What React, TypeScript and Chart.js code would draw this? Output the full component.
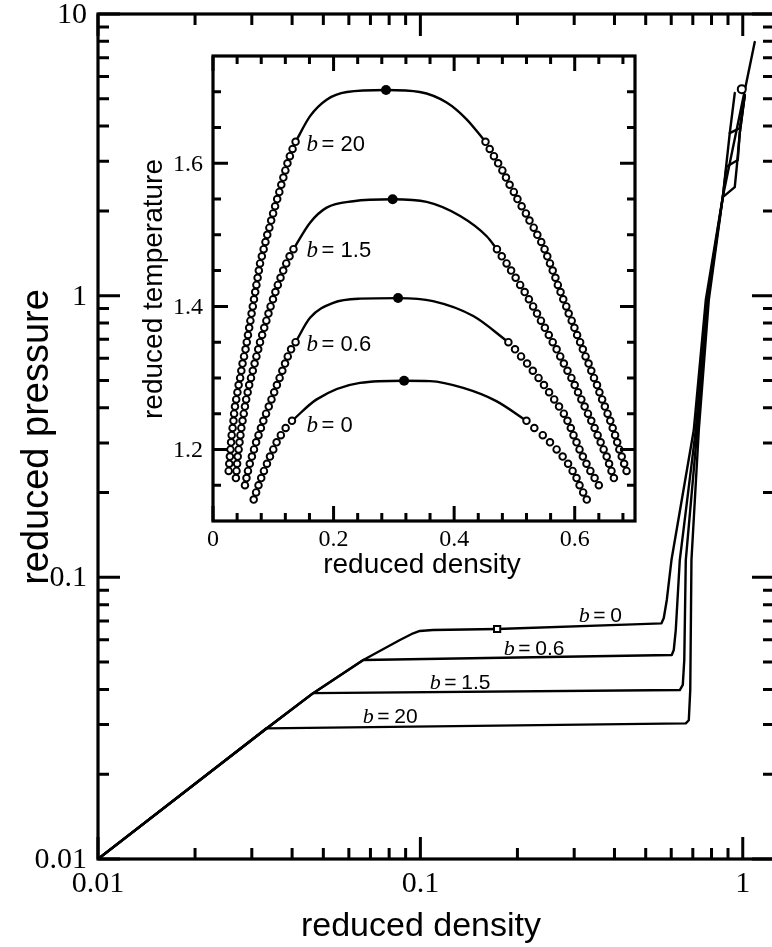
import React, { useEffect, useRef } from "react";
import { Chart, registerables } from "chart.js";
Chart.register(...registerables);

const W = 800;
const H = 947;

// ---------------- main chart (log-log) ----------------
const mainXRange = [0.01, 1.25];
const mainYRange = [0.01, 10];
const mainXMajor = [0.01, 0.1, 1];
const mainXMajorLabels = ["0.01", "0.1", "1"];
const mainYMajor = [0.01, 0.1, 1, 10];
const mainYMajorLabels = ["0.01", "0.1", "1", "10"];

// reduced density / reduced pressure along each isotherm
const b0Density = [0.01, 0.0318, 0.0465, 0.0665, 0.0864, 0.095, 0.0996, 0.1094, 0.173, 0.457, 0.5596, 0.5689, 0.5813, 0.601, 0.7048, 0.7679, 0.867, 1.0894];
const b0Pressure = [0.01, 0.0279, 0.0388, 0.0509, 0.0599, 0.0633, 0.0645, 0.065, 0.06555, 0.0681, 0.06866, 0.0717, 0.0831, 0.1152, 0.3334, 0.9647, 2.239, 7.95];

const b06Density = [0.01, 0.0318, 0.0465, 0.0665, 0.6023, 0.6109, 0.6197, 0.6378, 0.7149, 0.7733, 0.867, 0.9114, 0.9788, 1.0144];
const b06Pressure = [0.01, 0.0279, 0.0388, 0.0509, 0.053, 0.0552, 0.065, 0.1152, 0.3334, 0.9647, 2.239, 3.776, 3.935, 5.15];

const b15Density = [0.01, 0.0318, 0.0465, 0.6378, 0.6516, 0.6586, 0.6657, 0.7226, 0.779, 0.867, 0.89, 0.965, 0.9788, 1.0144];
const b15Pressure = [0.01, 0.0279, 0.0388, 0.0398, 0.0415, 0.0509, 0.1152, 0.3334, 0.9647, 2.239, 2.868, 3.03, 3.776, 5.15];

const b20Density = [0.01, 0.0318, 0.0332, 0.6657, 0.6802, 0.6873, 0.6932, 0.7305, 0.7845, 0.867, 0.905, 0.9445, 0.958, 0.9788, 1.0144];
const b20Pressure = [0.01, 0.0279, 0.0291, 0.0303, 0.0311, 0.0398, 0.1152, 0.3334, 0.9647, 2.239, 2.332, 2.43, 2.861, 3.776, 5.15];

const edgeDensity = [0.9114, 0.9445];
const edgePressure = [3.776, 5.24];

const squareDensity = [0.173];
const squarePressure = [0.06555];
const circleDensity = [0.993];
const circlePressure = [5.41];

const mainLabelText = ["0", "0.6", "1.5", "20"];
const mainLabelDensity = [0.31, 0.1815, 0.107, 0.0663];
const mainLabelPressure = [0.0696, 0.0528, 0.04, 0.0303];

// ---------------- inset chart (linear) ----------------
const insetXRange = [0, 0.7];
const insetYRange = [1.1, 1.75];
const insetXMajor = [0, 0.2, 0.4, 0.6];
const insetXMajorLabels = ["0", "0.2", "0.4", "0.6"];
const insetXMinor = [0.04, 0.08, 0.12, 0.16, 0.24, 0.28, 0.32, 0.36, 0.44, 0.48, 0.52, 0.56, 0.64, 0.68];
const insetYMajor = [1.2, 1.4, 1.6];
const insetYMajorLabels = ["1.2", "1.4", "1.6"];
const insetYMinor = [1.15, 1.25, 1.3, 1.35, 1.45, 1.5, 1.55, 1.65, 1.7];

// coexistence: temperature, gas density, liquid density
const b20T = [1.17, 1.18, 1.19, 1.2, 1.21, 1.22, 1.23, 1.24, 1.25, 1.26, 1.27, 1.28, 1.29, 1.3, 1.31, 1.32, 1.33, 1.34, 1.35, 1.36, 1.37, 1.38, 1.39, 1.4, 1.41, 1.42, 1.43, 1.44, 1.45, 1.46, 1.47, 1.48, 1.49, 1.5, 1.51, 1.52, 1.53, 1.54, 1.55, 1.56, 1.57, 1.58, 1.59, 1.6, 1.61, 1.62, 1.63];
const b20Gas = [0.026, 0.027, 0.028, 0.029, 0.03, 0.031, 0.0325, 0.034, 0.035, 0.0365, 0.0385, 0.0405, 0.0425, 0.045, 0.047, 0.049, 0.0515, 0.054, 0.056, 0.058, 0.06, 0.062, 0.064, 0.066, 0.068, 0.07, 0.072, 0.074, 0.076, 0.078, 0.081, 0.084, 0.087, 0.09, 0.0935, 0.0965, 0.0997, 0.103, 0.1065, 0.11, 0.1133, 0.1167, 0.12, 0.1235, 0.1275, 0.132, 0.137];
const b20Liq = [0.686, 0.682, 0.678, 0.674, 0.6705, 0.667, 0.663, 0.659, 0.6545, 0.65, 0.6455, 0.641, 0.637, 0.632, 0.6275, 0.623, 0.618, 0.6135, 0.609, 0.604, 0.5995, 0.595, 0.59, 0.586, 0.581, 0.5765, 0.572, 0.568, 0.5635, 0.559, 0.5545, 0.55, 0.5445, 0.538, 0.532, 0.525, 0.519, 0.512, 0.505, 0.499, 0.492, 0.486, 0.48, 0.473, 0.466, 0.459, 0.452];

const b15T = [1.16, 1.17, 1.18, 1.19, 1.2, 1.21, 1.22, 1.23, 1.24, 1.25, 1.26, 1.27, 1.28, 1.29, 1.3, 1.31, 1.32, 1.33, 1.34, 1.35, 1.36, 1.37, 1.38, 1.39, 1.4, 1.41, 1.42, 1.43, 1.44, 1.45, 1.46, 1.47, 1.48];
const b15Gas = [0.038, 0.039, 0.04, 0.041, 0.0425, 0.044, 0.0455, 0.047, 0.049, 0.051, 0.053, 0.055, 0.0575, 0.06, 0.063, 0.066, 0.069, 0.072, 0.075, 0.078, 0.0815, 0.085, 0.0885, 0.092, 0.0955, 0.0995, 0.1035, 0.1075, 0.112, 0.1165, 0.1215, 0.127, 0.1335];
const b15Liq = [0.665, 0.661, 0.657, 0.653, 0.648, 0.643, 0.638, 0.633, 0.6275, 0.622, 0.6165, 0.611, 0.6055, 0.6, 0.5945, 0.588, 0.582, 0.576, 0.57, 0.5635, 0.557, 0.5505, 0.544, 0.5375, 0.531, 0.524, 0.517, 0.5095, 0.502, 0.4945, 0.487, 0.479, 0.471];

const b06T = [1.15, 1.16, 1.17, 1.18, 1.19, 1.2, 1.21, 1.22, 1.23, 1.24, 1.25, 1.26, 1.27, 1.28, 1.29, 1.3, 1.31, 1.32, 1.33, 1.34, 1.35];
const b06Gas = [0.053, 0.0555, 0.058, 0.061, 0.0645, 0.068, 0.0715, 0.0755, 0.0795, 0.0835, 0.088, 0.0925, 0.097, 0.1015, 0.106, 0.1105, 0.115, 0.1195, 0.124, 0.1295, 0.137];
const b06Liq = [0.64, 0.633, 0.626, 0.6195, 0.6135, 0.608, 0.603, 0.598, 0.5935, 0.588, 0.582, 0.574, 0.566, 0.5575, 0.549, 0.54, 0.5305, 0.521, 0.511, 0.501, 0.49];

const b0T = [1.13, 1.14, 1.15, 1.16, 1.17, 1.18, 1.19, 1.2, 1.21, 1.22, 1.23, 1.24];
const b0Gas = [0.0675, 0.0715, 0.0755, 0.08, 0.0845, 0.0895, 0.0945, 0.1, 0.1055, 0.1125, 0.1205, 0.131];
const b0Liq = [0.62, 0.614, 0.608, 0.603, 0.5965, 0.589, 0.58, 0.57, 0.559, 0.547, 0.533, 0.52];

// fitted dome lines (density, temperature)
const b20LineX = [0.137, 0.161, 0.1885, 0.222, 0.287, 0.343, 0.3875, 0.4207, 0.452];
const b20LineT = [1.63, 1.666, 1.689, 1.6997, 1.7025, 1.6997, 1.685, 1.6615, 1.63];
const b15LineX = [0.1335, 0.161, 0.1885, 0.2327, 0.298, 0.3544, 0.41, 0.454, 0.471];
const b15LineT = [1.48, 1.517, 1.538, 1.547, 1.5497, 1.546, 1.5263, 1.498, 1.48];
const b06LineX = [0.137, 0.161, 0.1995, 0.2438, 0.307, 0.365, 0.4317, 0.49];
const b06LineT = [1.35, 1.384, 1.405, 1.4108, 1.4116, 1.4074, 1.3865, 1.35];
const b0LineX = [0.131, 0.172, 0.2438, 0.317, 0.36, 0.415, 0.47, 0.52];
const b0LineT = [1.24, 1.27, 1.293, 1.296, 1.2955, 1.286, 1.2676, 1.24];

// critical points
const critX = [0.287, 0.298, 0.307, 0.317];
const critT = [1.7025, 1.5497, 1.4116, 1.296];

const insetLabelText = ["20", "1.5", "0.6", "0"];
const insetLabelX = [0.1553, 0.1553, 0.1553, 0.1553];
const insetLabelT = [1.6168, 1.4685, 1.3375, 1.2247];

// ---------------- helpers ----------------
const pts = (xs: number[], ys: number[]) => xs.map((x, i) => ({ x, y: ys[i] }));

const SERIF = "'Liberation Serif', 'Times New Roman', serif";
const SANS = "'Liberation Sans', Arial, sans-serif";

function logMinors(min: number, max: number) {
  const out: number[] = [];
  for (let k = Math.floor(Math.log10(min)); k <= Math.ceil(Math.log10(max)); k++) {
    for (let m = 2; m <= 9; m++) {
      const v = m * Math.pow(10, k);
      if (v > min && v < max) out.push(v);
    }
  }
  return out;
}

function drawBLabel(
  ctx: CanvasRenderingContext2D,
  x: number,
  y: number,
  val: string,
  bSize: number,
  size: number,
  eqOff: number,
  valOff: number
) {
  ctx.fillStyle = "#000";
  ctx.textAlign = "left";
  ctx.textBaseline = "alphabetic";
  ctx.font = `italic ${bSize}px ${SERIF}`;
  ctx.fillText("b", x, y);
  ctx.font = `${size}px ${SANS}`;
  ctx.fillText("=", x + eqOff, y);
  ctx.fillText(val, x + valOff, y);
}

function drawTicks(
  ctx: CanvasRenderingContext2D,
  a: any,
  sx: any,
  sy: any,
  xMaj: number[],
  xMin: number[],
  yMaj: number[],
  yMin: number[],
  majLen: number,
  minLen: number,
  w: number
) {
  ctx.strokeStyle = "#000";
  ctx.lineWidth = w;
  ctx.lineCap = "butt";
  ctx.beginPath();
  const xt = (vals: number[], len: number) => {
    for (const v of vals) {
      const p = sx.getPixelForValue(v);
      ctx.moveTo(p, a.bottom);
      ctx.lineTo(p, a.bottom - len);
      ctx.moveTo(p, a.top);
      ctx.lineTo(p, a.top + len);
    }
  };
  const yt = (vals: number[], len: number) => {
    for (const v of vals) {
      const p = sy.getPixelForValue(v);
      ctx.moveTo(a.left, p);
      ctx.lineTo(a.left + len, p);
      ctx.moveTo(a.right, p);
      ctx.lineTo(a.right - len, p);
    }
  };
  xt(xMaj, majLen);
  xt(xMin, minLen);
  yt(yMaj, majLen);
  yt(yMin, minLen);
  ctx.stroke();
}

const mainPlugin = {
  id: "mainAxes",
  afterDraw(chart: any) {
    const ctx: CanvasRenderingContext2D = chart.ctx;
    const a = chart.chartArea;
    const sx = chart.scales.x;
    const sy = chart.scales.y;
    ctx.save();
    drawTicks(
      ctx, a, sx, sy,
      mainXMajor, logMinors(mainXRange[0], mainXRange[1]),
      mainYMajor, logMinors(mainYRange[0], mainYRange[1]),
      22, 11, 3
    );
    ctx.lineWidth = 3.2;
    ctx.strokeRect(a.left, a.top, a.right - a.left, a.bottom - a.top);

    ctx.fillStyle = "#000";
    ctx.font = `30px ${SERIF}`;
    ctx.textAlign = "center";
    ctx.textBaseline = "middle";
    mainXMajor.forEach((v, i) => {
      ctx.fillText(mainXMajorLabels[i], sx.getPixelForValue(v), a.bottom + 25);
    });
    ctx.textAlign = "right";
    mainYMajor.forEach((v, i) => {
      ctx.fillText(mainYMajorLabels[i], a.left - 11, sy.getPixelForValue(v) + 1);
    });

    ctx.font = `34px ${SANS}`;
    ctx.textAlign = "center";
    ctx.textBaseline = "alphabetic";
    ctx.fillText("reduced density", 421, 936);
    ctx.save();
    ctx.translate(48, 437);
    ctx.rotate(-Math.PI / 2);
    ctx.font = `38px ${SANS}`;
    ctx.fillText("reduced pressure", 0, 0);
    ctx.restore();

    mainLabelText.forEach((t, i) => {
      drawBLabel(ctx, sx.getPixelForValue(mainLabelDensity[i]), sy.getPixelForValue(mainLabelPressure[i]), t, 22, 21, 14.5, 31.5);
    });
    ctx.restore();
  },
};

const insetPlugin = {
  id: "insetAxes",
  beforeDraw(chart: any) {
    const ctx: CanvasRenderingContext2D = chart.ctx;
    const a = chart.chartArea;
    ctx.save();
    ctx.fillStyle = "#fff";
    ctx.fillRect(a.left, a.top, a.right - a.left, a.bottom - a.top);
    ctx.restore();
  },
  afterDraw(chart: any) {
    const ctx: CanvasRenderingContext2D = chart.ctx;
    const a = chart.chartArea;
    const sx = chart.scales.x;
    const sy = chart.scales.y;
    ctx.save();
    drawTicks(ctx, a, sx, sy, insetXMajor, insetXMinor, insetYMajor, insetYMinor, 15, 8, 3);
    ctx.lineWidth = 3.2;
    ctx.strokeRect(a.left, a.top, a.right - a.left, a.bottom - a.top);

    ctx.fillStyle = "#000";
    ctx.font = `24px ${SERIF}`;
    ctx.textAlign = "center";
    ctx.textBaseline = "middle";
    insetXMajor.forEach((v, i) => {
      ctx.fillText(insetXMajorLabels[i], sx.getPixelForValue(v), a.bottom + 19);
    });
    ctx.textAlign = "right";
    insetYMajor.forEach((v, i) => {
      ctx.fillText(insetYMajorLabels[i], a.left - 10, sy.getPixelForValue(v) + 1);
    });

    ctx.font = `28px ${SANS}`;
    ctx.textAlign = "center";
    ctx.textBaseline = "alphabetic";
    ctx.fillText("reduced density", 422, 573);
    ctx.save();
    ctx.translate(162, 289);
    ctx.rotate(-Math.PI / 2);
    ctx.font = `28px ${SANS}`;
    ctx.fillText("reduced temperature", 0, 0);
    ctx.restore();

    insetLabelText.forEach((t, i) => {
      drawBLabel(ctx, sx.getPixelForValue(insetLabelX[i]), sy.getPixelForValue(insetLabelT[i]), t, 23, 22, 15, 34);
    });
    ctx.restore();
  },
};

const mainLine = (xs: number[], ys: number[]) => ({
  data: pts(xs, ys),
  showLine: true,
  borderColor: "#000",
  borderWidth: 2.4,
  pointRadius: 0,
  tension: 0,
  fill: false,
  borderJoinStyle: "round",
  borderCapStyle: "round",
  order: 2,
});

const insetLine = (xs: number[], ys: number[]) => ({
  data: pts(xs, ys),
  showLine: true,
  borderColor: "#000",
  borderWidth: 2.4,
  pointRadius: 0,
  cubicInterpolationMode: "monotone",
  fill: false,
  order: 3,
});

const insetCircles = (xs: number[], ys: number[]) => ({
  data: pts(xs, ys),
  showLine: false,
  pointStyle: "circle",
  pointRadius: 3.3,
  pointBorderWidth: 1.9,
  pointBackgroundColor: "#fff",
  pointBorderColor: "#000",
  order: 2,
});

export default function App() {
  const mainRef = useRef<HTMLCanvasElement>(null);
  const insetRef = useRef<HTMLCanvasElement>(null);

  useEffect(() => {
    const main = new Chart(mainRef.current as HTMLCanvasElement, {
      type: "scatter",
      data: {
        datasets: [
          mainLine(b0Density, b0Pressure),
          mainLine(b06Density, b06Pressure),
          mainLine(b15Density, b15Pressure),
          mainLine(b20Density, b20Pressure),
          mainLine(edgeDensity, edgePressure),
          {
            data: pts(squareDensity, squarePressure),
            pointStyle: "rect",
            pointRadius: 4.4,
            pointBorderWidth: 2,
            pointBackgroundColor: "#fff",
            pointBorderColor: "#000",
            order: 1,
          },
          {
            data: pts(circleDensity, circlePressure),
            pointStyle: "circle",
            pointRadius: 4,
            pointBorderWidth: 2,
            pointBackgroundColor: "#fff",
            pointBorderColor: "#000",
            order: 1,
          },
        ] as any,
      },
      options: {
        responsive: false,
        animation: false,
        events: [],
        layout: { padding: { left: 98, top: 14, right: W - 774, bottom: H - 859 } },
        plugins: { legend: { display: false }, tooltip: { enabled: false } },
        scales: {
          x: { type: "logarithmic", min: mainXRange[0], max: mainXRange[1], display: false },
          y: { type: "logarithmic", min: mainYRange[0], max: mainYRange[1], display: false },
        },
      } as any,
      plugins: [mainPlugin],
    });

    const inset = new Chart(insetRef.current as HTMLCanvasElement, {
      type: "scatter",
      data: {
        datasets: [
          insetLine(b20LineX, b20LineT),
          insetLine(b15LineX, b15LineT),
          insetLine(b06LineX, b06LineT),
          insetLine(b0LineX, b0LineT),
          insetCircles(b20Gas, b20T),
          insetCircles(b20Liq, b20T),
          insetCircles(b15Gas, b15T),
          insetCircles(b15Liq, b15T),
          insetCircles(b06Gas, b06T),
          insetCircles(b06Liq, b06T),
          insetCircles(b0Gas, b0T),
          insetCircles(b0Liq, b0T),
          {
            data: pts(critX, critT),
            pointStyle: "circle",
            pointRadius: 5,
            pointBorderWidth: 0,
            pointBackgroundColor: "#000",
            order: 1,
          },
        ] as any,
      },
      options: {
        responsive: false,
        animation: false,
        events: [],
        layout: { padding: { left: 213, top: 56, right: W - 635, bottom: H - 521 } },
        plugins: { legend: { display: false }, tooltip: { enabled: false } },
        scales: {
          x: { type: "linear", min: insetXRange[0], max: insetXRange[1], display: false },
          y: { type: "linear", min: insetYRange[0], max: insetYRange[1], display: false },
        },
      } as any,
      plugins: [insetPlugin],
    });

    return () => {
      main.destroy();
      inset.destroy();
    };
  }, []);

  const cs: React.CSSProperties = { position: "absolute", left: 0, top: 0, width: W, height: H };
  return (
    <div style={{ position: "fixed", left: 0, top: 0, width: 772, height: 947, overflow: "hidden", background: "#fff" }}>
      <canvas ref={mainRef} width={W} height={H} style={cs} />
      <canvas ref={insetRef} width={W} height={H} style={cs} />
    </div>
  );
}
